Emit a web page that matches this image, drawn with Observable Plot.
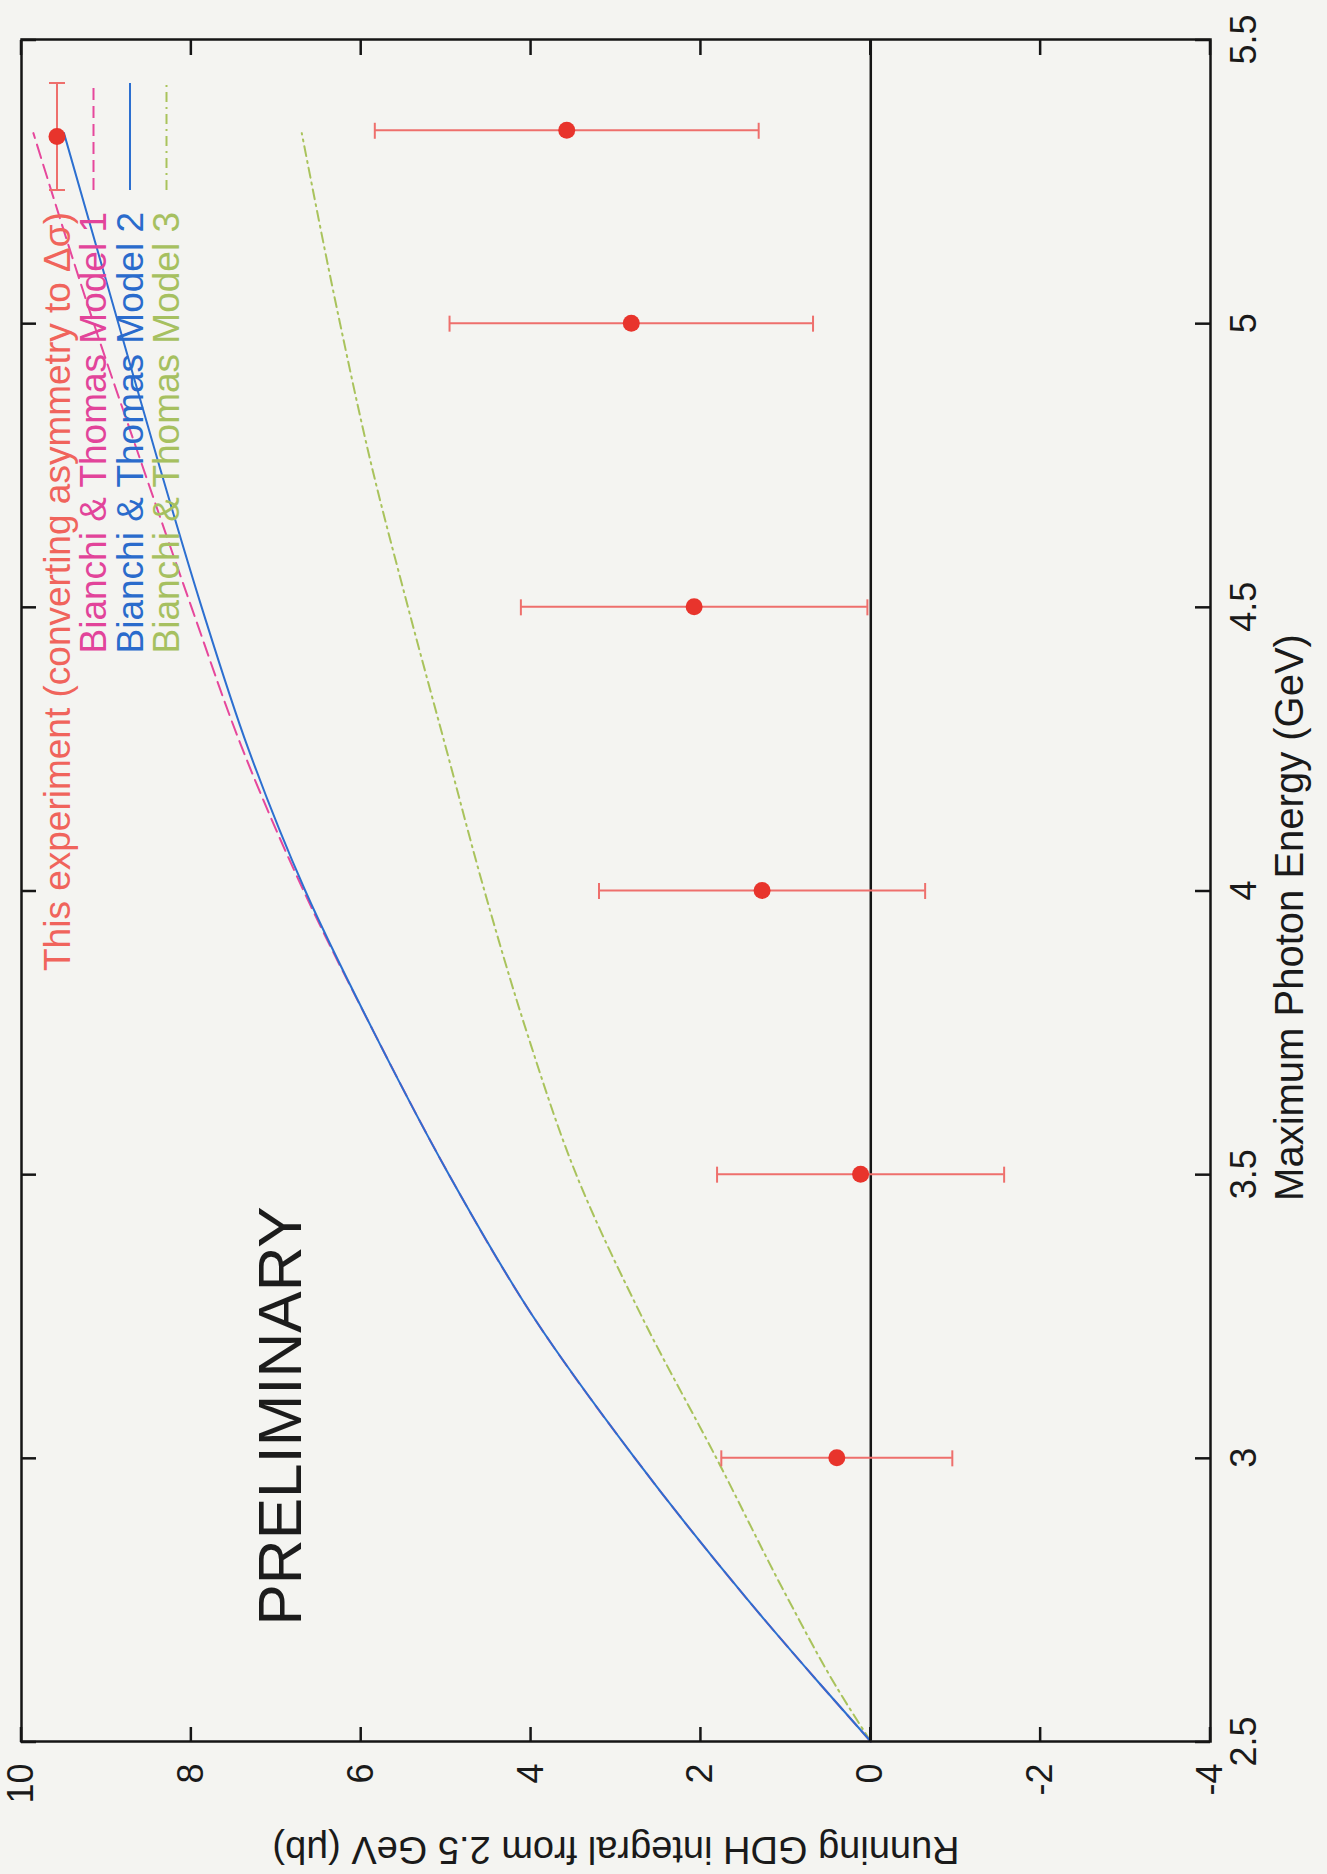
<!DOCTYPE html>
<html><head><meta charset="utf-8">
<script src="https://cdn.jsdelivr.net/npm/d3@7"></script>
<script src="https://cdn.jsdelivr.net/npm/@observablehq/plot@0.6"></script>
<style>
html,body{margin:0;padding:0;background:#f4f4f1;}
#wrap{position:relative;width:1327px;height:1874px;overflow:hidden;background:#f4f4f1;}
#chart{position:absolute;left:0;top:0;width:1874px;height:1327px;transform-origin:0 0;transform:translate(0px,1874px) rotate(-90deg);}
</style></head><body><div id="wrap"><div id="chart"></div></div>
<script>
// ---- data ----
const energyTicks = [2.5, 3, 3.5, 4, 4.5, 5, 5.5];
const gdhTicks = [-4, -2, 0, 2, 4, 6, 8, 10];

const expEnergy = [3, 3.5, 4, 4.5, 5, 5.34];
const expGdh    = [0.40, 0.12, 1.28, 2.08, 2.82, 3.58];
const expErr    = [1.36, 1.69, 1.92, 2.04, 2.14, 2.26];

const modelEnergy = [2.5, 2.6, 2.75, 3.0, 3.25, 3.5, 3.75, 4.0, 4.25, 4.5, 4.75, 5.0, 5.335];
const model1 = [0, 0.59, 1.45, 2.78, 3.98, 4.97, 5.85, 6.68, 7.40, 8.00, 8.58, 9.15, 9.86];
const model2 = [0, 0.59, 1.45, 2.78, 3.98, 4.97, 5.85, 6.66, 7.33, 7.88, 8.38, 8.86, 9.50];
const model3 = [0, 0.42, 0.97, 1.82, 2.70, 3.47, 4.05, 4.55, 5.00, 5.45, 5.88, 6.25, 6.70];

const legendLabels = [
  "This experiment (converting asymmetry to \u0394\u03c3)",
  "Bianchi & Thomas Model 1",
  "Bianchi & Thomas Model 2",
  "Bianchi & Thomas Model 3"
];
const xLabel = "Maximum Photon Energy (GeV)";
const yLabel = "Running GDH integral from 2.5 GeV (\u03bcb)";
const stamp = "PRELIMINARY";

// ---- styles ----
const cExpDot = "#e8342c", cExpBar = "#ee6f6c", cExpText = "#f0645c";
const cM1 = "#e6479c", cM2 = "#2c6fd0", cM3 = "#a9c35c";
const cM1Text = "#e2449a", cM2Text = "#2a6bcc", cM3Text = "#a6c060";
const FONT = "'Liberation Sans', Arial, sans-serif";

const expData = expEnergy.map((E, i) => ({E, v: expGdh[i], err: expErr[i]}));
const modelData = modelEnergy.map((E, i) => ({E, m1: model1[i], m2: model2[i], m3: model3[i]}));

const W = 1874, H = 1327;
const mL = 132, mR = 40, mT = 21, mB = 117;

const plot = Plot.plot({
  width: W, height: H,
  marginLeft: mL, marginRight: mR, marginTop: mT, marginBottom: mB,
  x: {domain: [2.5, 5.5]},
  y: {domain: [-4, 10]},
  style: {background: "#f4f4f1", fontFamily: FONT, color: "#1a1a1a"},
  marks: [
    Plot.ruleY([0], {stroke: "#151515", strokeWidth: 2.5}),
    Plot.line(modelData, {x: "E", y: "m3", stroke: cM3, strokeWidth: 2, strokeDasharray: "10,5,2,5", curve: "monotone-x"}),
    Plot.line(modelData, {x: "E", y: "m1", stroke: cM1, strokeWidth: 2, strokeDasharray: "14,7", curve: "monotone-x"}),
    Plot.line(modelData, {x: "E", y: "m2", stroke: cM2, strokeWidth: 2, curve: "monotone-x"}),
    Plot.ruleX(expData, {x: "E", y1: d => d.v - d.err, y2: d => d.v + d.err, stroke: cExpBar, strokeWidth: 2}),
    Plot.ruleY(expData, {y: d => d.v - d.err, x1: "E", x2: "E", insetLeft: -8, insetRight: -8, stroke: cExpBar, strokeWidth: 2}),
    Plot.ruleY(expData, {y: d => d.v + d.err, x1: "E", x2: "E", insetLeft: -8, insetRight: -8, stroke: cExpBar, strokeWidth: 2}),
    Plot.dot(expData, {x: "E", y: "v", r: 8.5, fill: cExpDot, stroke: "none"}),
    Plot.frame({stroke: "#151515", strokeWidth: 2.5}),
    Plot.axisX(energyTicks, {anchor: "bottom", tickSize: 0, tickPadding: 20, fontSize: 36, tickFormat: d => String(d), label: null}),
    Plot.axisY(gdhTicks, {anchor: "left", tickSize: 0, tickPadding: 22, fontSize: 36, tickFormat: d => String(d), label: null}),
    Plot.text([xLabel], {frameAnchor: "bottom", dx: -27, dy: 80, fontSize: 40, textAnchor: "middle", lineAnchor: "middle", fill: "#1a1a1a"}),
    Plot.text([yLabel], {frameAnchor: "left", dx: -108, rotate: -90, fontSize: 38, textAnchor: "middle", lineAnchor: "middle", fill: "#1a1a1a"}),
    Plot.text([stamp], {frameAnchor: "top-left", dx: 116, dy: 279, textAnchor: "start", lineAnchor: "bottom", fontSize: 62, fill: "#1c1c1c"})
  ]
});

document.getElementById("chart").appendChild(plot);

// inward mirrored ticks (gnuplot style) and the key
const svg = d3.select(plot);
const xs = plot.scale("x"), ys = plot.scale("y");
const Lx = mL, Rx = W - mR, Ty = mT, By = H - mB, TS = 15;
const tg = svg.append("g").attr("stroke", "#151515").attr("stroke-width", 2.5);
energyTicks.forEach(t => {
  const px = xs.apply(t);
  tg.append("line").attr("x1", px).attr("x2", px).attr("y1", By).attr("y2", By - TS);
  tg.append("line").attr("x1", px).attr("x2", px).attr("y1", Ty).attr("y2", Ty + TS);
});
gdhTicks.forEach(t => {
  const py = ys.apply(t);
  tg.append("line").attr("y1", py).attr("y2", py).attr("x1", Lx).attr("x2", Lx + TS);
  tg.append("line").attr("y1", py).attr("y2", py).attr("x1", Rx).attr("x2", Rx - TS);
});

const key = svg.append("g").attr("font-family", FONT).attr("font-size", 37);
const keyColors = [cExpText, cM1Text, cM2Text, cM3Text];
const keyStroke = [cExpBar, cM1, cM2, cM3];
const keyDash = [null, "12,6", null, "10,5,2,5"];
legendLabels.forEach((lab, i) => {
  const y = Ty + 36 + i * 36.5;
  key.append("text").attr("x", Rx - 172).attr("y", y).attr("text-anchor", "end")
    .attr("dominant-baseline", "central").attr("fill", keyColors[i]).text(lab);
  const x1 = Rx - 150, x2 = Rx - 43;
  const ln = key.append("line").attr("x1", x1).attr("x2", x2).attr("y1", y).attr("y2", y)
    .attr("stroke", keyStroke[i]).attr("stroke-width", 2);
  if (keyDash[i]) ln.attr("stroke-dasharray", keyDash[i]);
  if (i === 0) {
    key.append("line").attr("x1", x1).attr("x2", x1).attr("y1", y - 8).attr("y2", y + 8).attr("stroke", cExpBar).attr("stroke-width", 2);
    key.append("line").attr("x1", x2).attr("x2", x2).attr("y1", y - 8).attr("y2", y + 8).attr("stroke", cExpBar).attr("stroke-width", 2);
    key.append("circle").attr("cx", (x1 + x2) / 2).attr("cy", y).attr("r", 8.5).attr("fill", cExpDot);
  }
});
</script>
</body></html>
